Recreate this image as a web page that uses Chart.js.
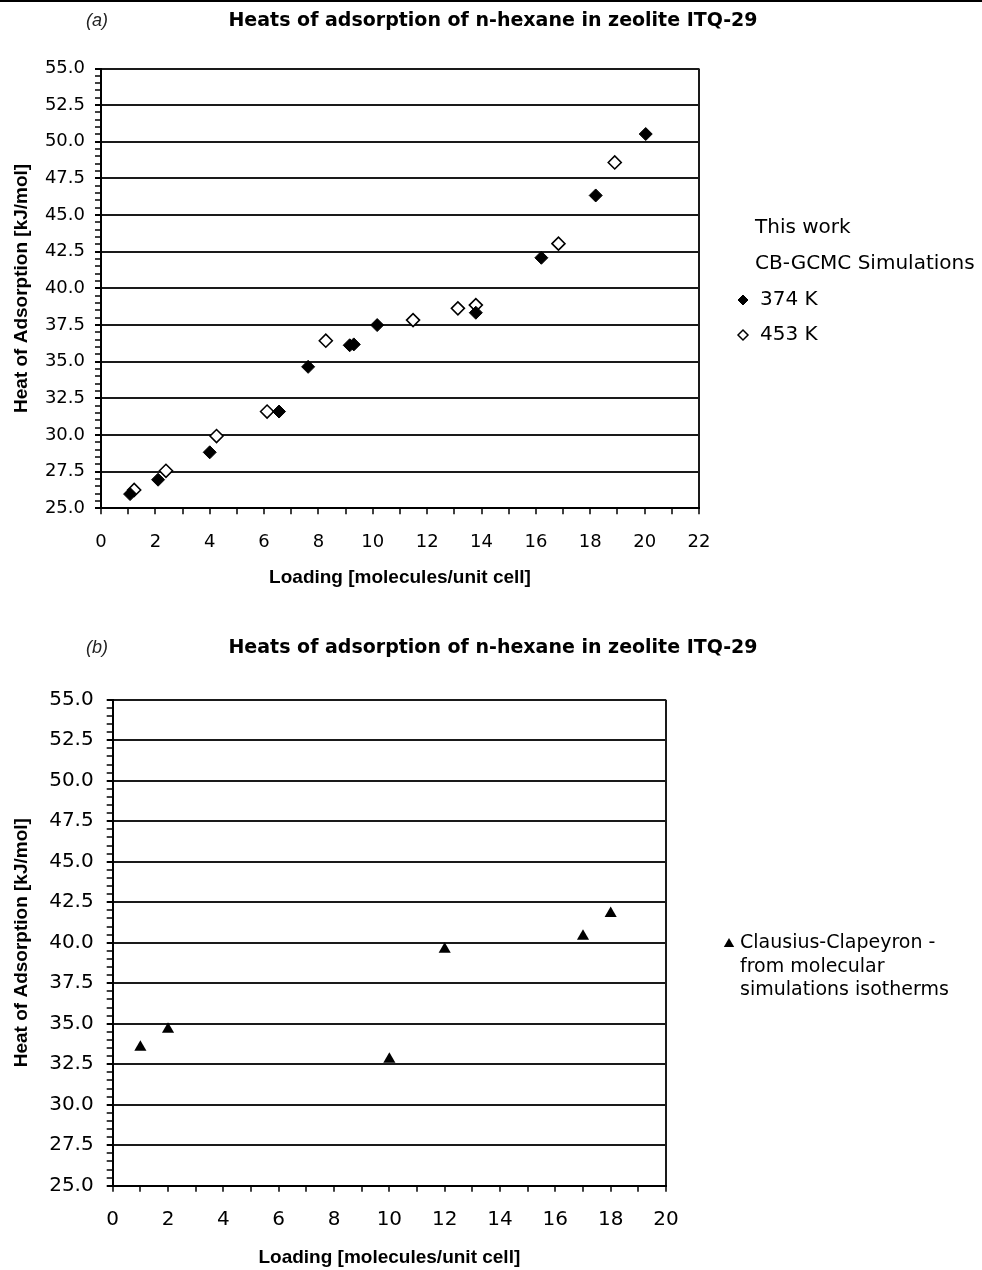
<!DOCTYPE html>
<html><head><meta charset="utf-8">
<script src="https://cdn.jsdelivr.net/npm/chart.js@4.4.1/dist/chart.umd.min.js"></script>
<style>
html,body{margin:0;padding:0;background:#fff;}
#wrap{position:relative;width:982px;height:1270px;overflow:hidden;background:#fff;}
#ca{position:absolute;left:0;top:0;}
#cb{position:absolute;left:0;top:620px;}
</style></head><body>
<div id="wrap"><canvas id="ca" width="982" height="620"></canvas><canvas id="cb" width="982" height="650"></canvas></div>
<script>
// ---- data ----
const chartTitle = 'Heats of adsorption of n-hexane in zeolite ITQ-29';
const xTitle = 'Loading [molecules/unit cell]';
const yTitle = 'Heat of Adsorption [kJ/mol]';

const loading374 = [1.07, 2.1, 4.0, 6.55, 7.62, 9.15, 9.3, 10.16, 13.79, 16.2, 18.2, 20.04];
const heat374    = [25.97, 26.95, 28.82, 31.6, 34.65, 36.12, 36.18, 37.5, 38.34, 42.09, 46.34, 50.53];
const loading453 = [1.22, 2.39, 4.25, 6.11, 8.27, 11.48, 13.13, 13.79, 16.83, 18.9];
const heat453    = [26.25, 27.56, 29.93, 31.6, 36.43, 37.84, 38.64, 38.86, 43.05, 48.59];

const loadingCC = [1, 2, 10, 12, 17, 18];
const heatCC    = [33.55, 34.65, 32.8, 39.6, 40.4, 41.8];

const legendA = ['This work', 'CB-GCMC Simulations', '374 K', '453 K'];
const legendB = ['Clausius-Clapeyron -', 'from molecular', 'simulations isotherms'];

const yMin = 25, yMax = 55, yMajor = 2.5, yMinor = 0.5;
const xMaxA = 22, xMaxB = 20;

// ---- helpers ----
const pts = (xs, ys) => xs.map((x, i) => ({x: x, y: ys[i]}));
const isMajorY = v => Math.abs(v / yMajor - Math.round(v / yMajor)) < 1e-6;

function yScale(fontSize, pad, width) {
  return {
    type: 'linear', min: yMin, max: yMax,
    afterFit: s => { s.width = width; },
    border: {display: true, color: '#000', width: 2},
    grid: {
      color: c => (c.tick && isMajorY(c.tick.value)) ? '#1a1a1a' : 'rgba(0,0,0,0)',
      lineWidth: 2, tickLength: 6, tickColor: '#000',
      tickWidth: c => (c.tick && isMajorY(c.tick.value)) ? 2 : 1.5
    },
    ticks: {
      stepSize: yMinor, autoSkip: false, padding: pad, color: '#000',
      font: {family: 'DejaVu Sans', size: fontSize},
      callback: v => isMajorY(v) ? Number(v).toFixed(1) : ''
    },
    title: {display: true, text: yTitle, color: '#000',
      font: {family: 'Liberation Sans', weight: 'bold', size: 19}, padding: {top: 10, bottom: 0}}
  };
}
function xScale(xmax, fontSize, pad, height, titlePad) {
  return {
    type: 'linear', min: 0, max: xmax,
    afterFit: s => { s.height = height; },
    border: {display: true, color: '#000', width: 2},
    grid: {
      color: c => (c.tick && c.tick.value === xmax) ? '#1a1a1a' : 'rgba(0,0,0,0)',
      lineWidth: 2, tickLength: 6, tickColor: '#000', tickWidth: 1.5
    },
    ticks: {
      stepSize: 1, autoSkip: false, maxRotation: 0, padding: pad, color: '#000',
      font: {family: 'DejaVu Sans', size: fontSize},
      callback: v => (v % 2 === 0) ? String(v) : ''
    },
    title: {display: true, text: xTitle, color: '#000',
      font: {family: 'Liberation Sans', weight: 'bold', size: 19}, padding: {top: 0, bottom: titlePad}}
  };
}
function diamond(ctx, x, y, r, fill, lw) {
  ctx.beginPath();
  ctx.moveTo(x - r, y); ctx.lineTo(x, y - r); ctx.lineTo(x + r, y); ctx.lineTo(x, y + r); ctx.closePath();
  ctx.fillStyle = fill; ctx.fill();
  ctx.lineWidth = lw; ctx.strokeStyle = '#000'; ctx.stroke();
}
function triangle(ctx, x, y, r) {
  ctx.beginPath();
  ctx.moveTo(x, y - r); ctx.lineTo(x + 0.866 * r, y + 0.5 * r); ctx.lineTo(x - 0.866 * r, y + 0.5 * r); ctx.closePath();
  ctx.fillStyle = '#000'; ctx.fill();
}
function drawHeader(ctx, tag, y) {
  ctx.fillStyle = '#222';
  ctx.font = 'italic 18px "Liberation Sans"';
  ctx.textAlign = 'left'; ctx.textBaseline = 'middle';
  ctx.fillText(tag, 86, y);
  ctx.fillStyle = '#000';
  ctx.font = 'bold 19px "DejaVu Sans"';
  ctx.textAlign = 'center';
  ctx.fillText(chartTitle, 493, y);
}

const decorA = {
  id: 'decorA',
  afterDraw(chart) {
    const ctx = chart.ctx; ctx.save();
    ctx.fillStyle = '#000'; ctx.fillRect(0, 0, 982, 2);
    drawHeader(ctx, '(a)', 21);
    ctx.font = '20px "DejaVu Sans"'; ctx.textAlign = 'left'; ctx.textBaseline = 'middle'; ctx.fillStyle = '#000';
    ctx.fillText(legendA[0], 755, 228);
    ctx.fillText(legendA[1], 755, 264);
    ctx.fillText(legendA[2], 760, 300);
    ctx.fillText(legendA[3], 760, 335);
    diamond(ctx, 743, 300, 5, '#000', 1);
    diamond(ctx, 743, 335, 5, '#fff', 1.5);
    ctx.restore();
  }
};
const decorB = {
  id: 'decorB',
  afterDraw(chart) {
    const ctx = chart.ctx; ctx.save();
    drawHeader(ctx, '(b)', 28);
    ctx.font = '19px "DejaVu Sans"'; ctx.textAlign = 'left'; ctx.textBaseline = 'middle'; ctx.fillStyle = '#000';
    ctx.fillText(legendB[0], 740, 323);
    ctx.fillText(legendB[1], 740, 347);
    ctx.fillText(legendB[2], 740, 370);
    triangle(ctx, 729, 324, 6);
    ctx.restore();
  }
};

const common = {
  responsive: false, animation: false, devicePixelRatio: 1,
  plugins: {legend: {display: false}, tooltip: {enabled: false}, title: {display: false}}
};

new Chart(document.getElementById('ca'), {
  type: 'scatter',
  data: {datasets: [
    {label: '374 K', data: pts(loading374, heat374), pointStyle: 'rectRot', pointRadius: 6.5,
      backgroundColor: '#000', borderColor: '#000', borderWidth: 1, showLine: false},
    {label: '453 K', data: pts(loading453, heat453), pointStyle: 'rectRot', pointRadius: 6.5,
      backgroundColor: '#fff', borderColor: '#000', borderWidth: 1.6, showLine: false}
  ]},
  options: Object.assign({}, common, {
    layout: {padding: {left: 0, top: 68.5, right: 283, bottom: 0}},
    scales: {x: xScale(xMaxA, 18, 17.6, 111.7, 30.6), y: yScale(18, 10, 101)}
  }),
  plugins: [decorA]
});

new Chart(document.getElementById('cb'), {
  type: 'scatter',
  data: {datasets: [
    {label: 'Clausius-Clapeyron - from molecular simulations isotherms', data: pts(loadingCC, heatCC),
      pointStyle: 'triangle', pointRadius: 7, backgroundColor: '#000', borderColor: '#000', borderWidth: 0, showLine: false}
  ]},
  options: Object.assign({}, common, {
    layout: {padding: {left: 0, top: 79.7, right: 316, bottom: 0}},
    scales: {x: xScale(xMaxB, 20, 16.3, 84.3, 0.6), y: yScale(20, 13, 112.7)}
  }),
  plugins: [decorB]
});
</script></body></html>
